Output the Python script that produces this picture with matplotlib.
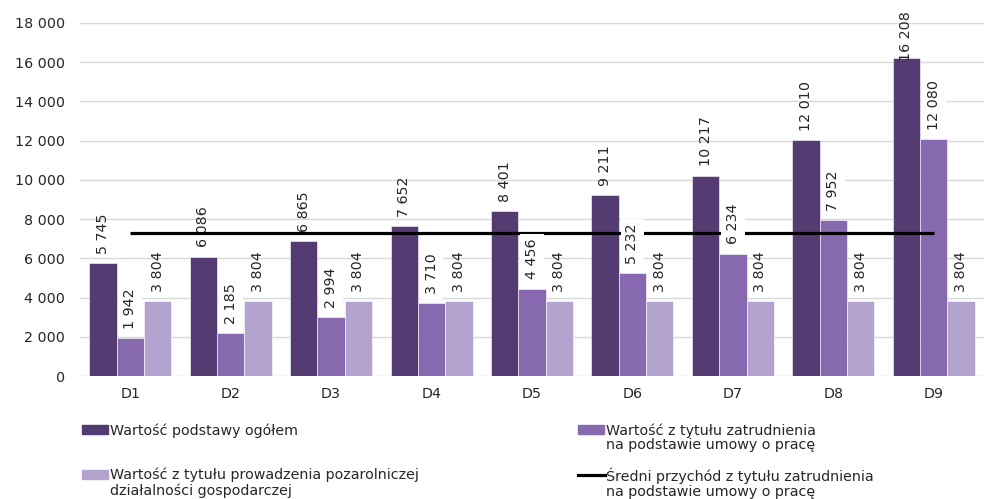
import matplotlib
matplotlib.use("Agg")
import matplotlib.pyplot as plt
from matplotlib.patches import Rectangle
from matplotlib.lines import Line2D
import numpy as np

plt.rcParams['font.family'] = ['DejaVu Sans']

# data
categories = ['D1', 'D2', 'D3', 'D4', 'D5', 'D6', 'D7', 'D8', 'D9']
total = [5745, 6086, 6865, 7652, 8401, 9211, 10217, 12010, 16208]
employment = [1942, 2185, 2994, 3710, 4456, 5232, 6234, 7952, 12080]
business = [3804, 3804, 3804, 3804, 3804, 3804, 3804, 3804, 3804]
avg_income = [7300] * 9

labels = ['Wartość podstawy ogółem',
          'Wartość z tytułu zatrudnienia\nna podstawie umowy o pracę',
          'Wartość z tytułu prowadzenia pozarolniczej\ndziałalności gospodarczej',
          'Średni przychód z tytułu zatrudnienia\nna podstawie umowy o pracę']

c_dark = '#543c72'
c_mid = '#8669ae'
c_light = '#b4a3cf'
txt = '#262626'
W, H = 984, 499
fs = 10.3

fig = plt.figure(figsize=(9.84, 4.99), dpi=100)
ax = fig.add_axes([80 / W, 1 - 376 / H, 904 / W, 353 / H])

x = np.arange(len(categories))
w = 0.272
series = [(total, c_dark, -w), (employment, c_mid, 0), (business, c_light, w)]

for vals, col, off in series:
    ax.bar(x + off, vals, width=w, color=col, edgecolor='white', linewidth=0.4, zorder=2)

ax.plot(x, avg_income, color='black', linewidth=2.3, zorder=3, solid_capstyle='butt')

def fmt(v):
    return f'{v:,}'.replace(',', ' ')

for i, (vals, col, off) in enumerate(series):
    for xi, v in zip(x, vals):
        base = min(v + 480, 16070)
        kw = {}
        z = 2.5
        if i == 1:
            kw['bbox'] = dict(facecolor='white', edgecolor='none', pad=3.5)
            z = 4
        ax.text(xi + off, base, fmt(v), rotation=90, ha='center', va='bottom',
                fontsize=fs, color=txt, zorder=z, **kw)

ax.set_xlim(-0.5, len(categories) - 0.5)
ax.set_ylim(0, 18000)
ax.set_yticks(np.arange(0, 18001, 2000))
ax.set_yticklabels([fmt(v) for v in range(0, 18001, 2000)])
ax.set_xticks(x)
ax.set_xticklabels(categories)
ax.tick_params(axis='both', length=0, labelsize=fs, colors=txt)
ax.tick_params(axis='y', pad=11)
ax.tick_params(axis='x', pad=8)
ax.yaxis.grid(True, color='#d9d9d9', linewidth=1, zorder=0)
ax.set_axisbelow(True)
for s in ax.spines.values():
    s.set_visible(False)

# legend drawn by hand: handle aligned with first text line
entries = [(82, 430, 'patch', c_dark, labels[0]),
           (578, 430, 'patch', c_mid, labels[1]),
           (82, 475, 'patch', c_light, labels[2]),
           (578, 475, 'line', 'black', labels[3])]
for ex, ey, kind, col, lab in entries:
    if kind == 'patch':
        fig.patches.append(Rectangle((ex / W, 1 - (ey + 4) / H), 26 / W, 9 / H,
                                     color=col, transform=fig.transFigure))
    else:
        fig.lines.append(Line2D([ex / W, (ex + 27) / W], [1 - ey / H, 1 - ey / H],
                                color=col, linewidth=2.3, transform=fig.transFigure))
    fig.text((ex + 28) / W, 1 - (ey - 7) / H, lab, ha='left', va='top',
             fontsize=fs, color=txt, linespacing=1.08)

fig.savefig('out.png', dpi=100)
